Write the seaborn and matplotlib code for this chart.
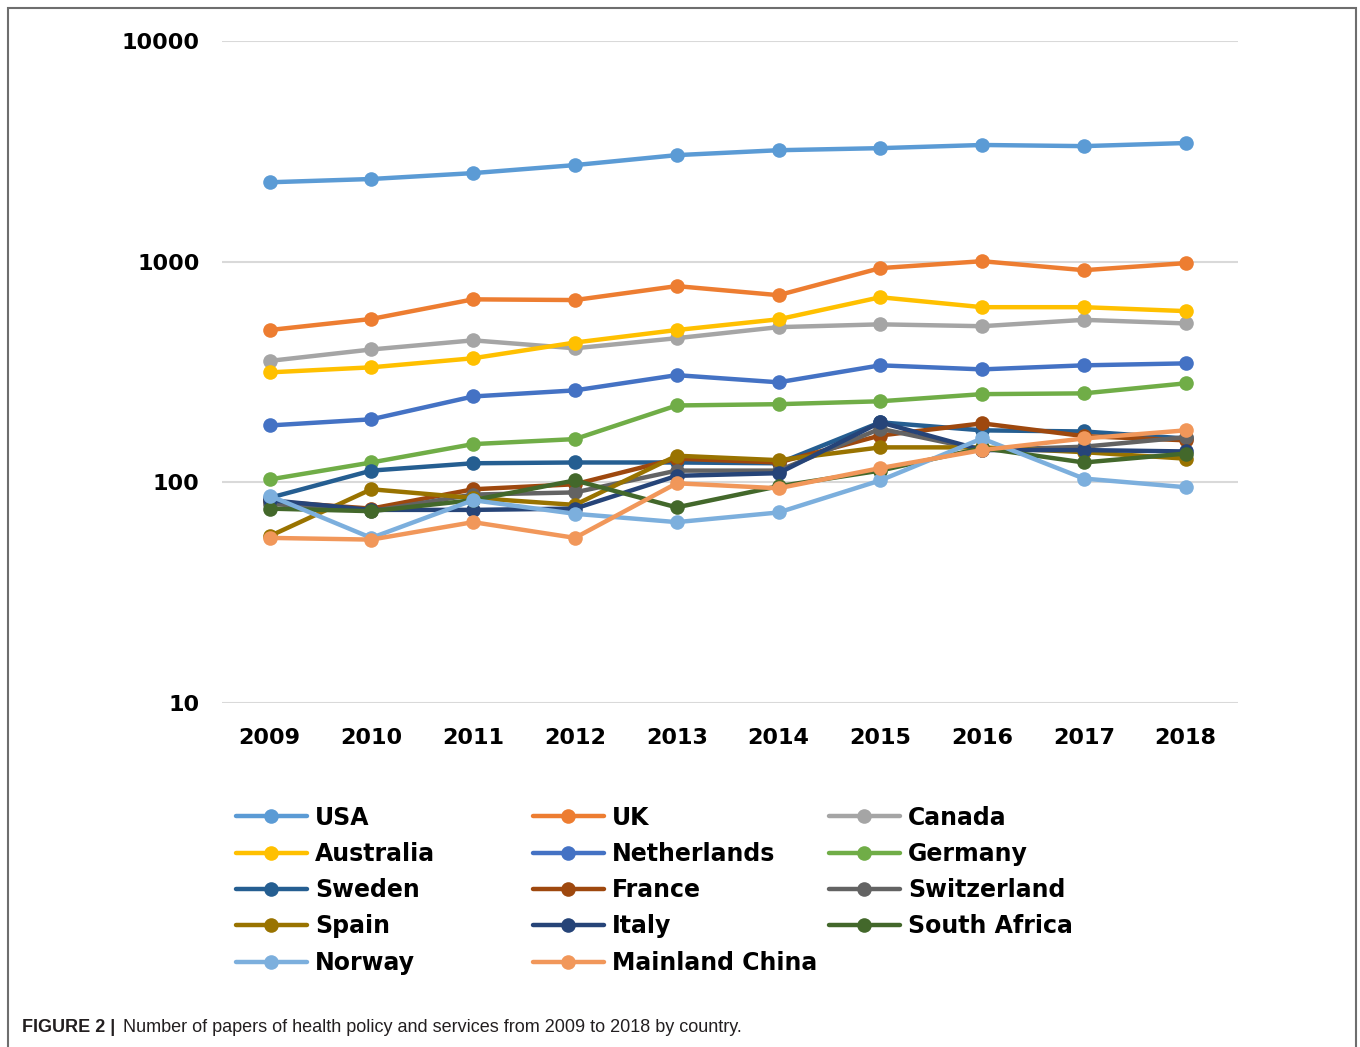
import matplotlib
matplotlib.use("Agg")
import matplotlib.pyplot as plt
import seaborn as sns
import pandas as pd
from matplotlib.lines import Line2D
from matplotlib.patches import Rectangle

years = [2009, 2010, 2011, 2012, 2013, 2014, 2015, 2016, 2017, 2018]

countries = ["USA", "UK", "Canada", "Australia", "Netherlands", "Germany",
             "Sweden", "France", "Switzerland", "Spain", "Italy", "South Africa",
             "Norway", "Mainland China"]

usa = [2290, 2370, 2520, 2740, 3040, 3200, 3270, 3380, 3340, 3450]
uk = [490, 550, 675, 670, 775, 705, 935, 1005, 915, 985]
canada = [355, 400, 440, 405, 450, 505, 520, 510, 545, 525]
australia = [315, 332, 365, 430, 490, 548, 690, 622, 622, 597]
netherlands = [181, 193, 245, 261, 306, 284, 339, 325, 339, 346]
germany = [103, 123, 149, 157, 223, 226, 233, 251, 253, 281]
sweden = [85, 113, 122, 123, 123, 122, 187, 172, 170, 158]
france = [82, 76, 93, 98, 128, 123, 163, 185, 162, 155]
switzerland = [80, 74, 88, 90, 113, 113, 175, 140, 145, 160]
spain = [57, 93, 85, 79, 132, 126, 144, 144, 137, 128]
italy = [83, 75, 75, 76, 107, 110, 187, 140, 140, 138]
south_africa = [76, 74, 83, 102, 77, 96, 113, 143, 123, 135]
norway = [87, 56, 83, 72, 66, 73, 102, 158, 104, 95]
mainland_china = [56, 55, 66, 56, 99, 94, 116, 140, 158, 172]

series = [usa, uk, canada, australia, netherlands, germany, sweden, france,
          switzerland, spain, italy, south_africa, norway, mainland_china]

colors = ["#5B9BD5", "#ED7D31", "#A5A5A5", "#FFC000", "#4472C4", "#70AD47",
          "#255E91", "#9E480E", "#636363", "#997300", "#264478", "#43682B",
          "#7CAFDD", "#F1975A"]
palette = dict(zip(countries, colors))

rows = []
for name, vals in zip(countries, series):
    for yr, v in zip(years, vals):
        rows.append({"year": yr, "country": name, "papers": v})
df = pd.DataFrame(rows)

sns.set_theme(style="white")
plt.rcParams['font.family'] = ['DejaVu Sans']
plt.rcParams['text.color'] = 'black'
plt.rcParams['xtick.color'] = 'black'
plt.rcParams['ytick.color'] = 'black'

fig = plt.figure(figsize=(13.6, 10.47), dpi=100)
ax = fig.add_axes([0.163, 0.3286, 0.747, 0.6322])

sns.lineplot(data=df, x="year", y="papers", hue="country", hue_order=countries,
             palette=palette, marker="o", markersize=10.5, markeredgewidth=0,
             linewidth=3.2, legend=False, ax=ax)

ax.set_yscale("log")
ax.set_ylim(10, 10000)
ax.set_xlim(2008.53, 2018.51)
ax.set_yticks([10, 100, 1000, 10000])
ax.set_yticklabels(["10", "100", "1000", "10000"])
ax.set_xticks(years)
ax.set_xticklabels([str(y) for y in years])
ax.minorticks_off()
ax.yaxis.grid(True, color="#D9D9D9", linewidth=1.5)
ax.set_axisbelow(True)
for s in ax.spines.values():
    s.set_visible(False)
ax.tick_params(axis="both", length=0, labelsize=16, labelcolor="black")
ax.tick_params(axis="y", pad=16)
ax.tick_params(axis="x", pad=18)
for lab in ax.get_xticklabels() + ax.get_yticklabels():
    lab.set_fontweight("bold")
ax.set_xlabel("")
ax.set_ylabel("")

# legend, three columns placed like the original
col_idx = [[0, 3, 6, 9, 12], [1, 4, 7, 10, 13], [2, 5, 8, 11]]
col_x = [0.1735, 0.3919, 0.6096]
for idx, x0 in zip(col_idx, col_x):
    handles = [Line2D([], [], color=colors[i], marker="o", markersize=10.5,
                      markeredgewidth=0, linewidth=3.2) for i in idx]
    labels = [countries[i] for i in idx]
    leg = fig.legend(handles, labels, loc="upper left", bbox_to_anchor=(x0, 0.2305),
                     frameon=False, borderpad=0, borderaxespad=0, handlelength=3.0,
                     handletextpad=0.34, labelspacing=0.52,
                     prop={"weight": "bold", "size": 17})
    for t in leg.get_texts():
        t.set_color("black")

# frame
fig.patches.append(Rectangle((8 / 1360, -0.1), 1348 / 1360, 1.1 - 8 / 1047,
                             transform=fig.transFigure, fill=False,
                             edgecolor="#6E6E6E", linewidth=1.5))

fig.text(22 / 1360, 1 - 1028 / 1047, "FIGURE 2 |", fontweight="bold", fontsize=13,
         family=["Liberation Sans"], va="center", color="#231F20")
fig.text(123 / 1360, 1 - 1028 / 1047,
         "Number of papers of health policy and services from 2009 to 2018 by country.",
         fontsize=13, family=["Liberation Sans"], va="center", color="#231F20")

fig.savefig("out.png", dpi=100)
